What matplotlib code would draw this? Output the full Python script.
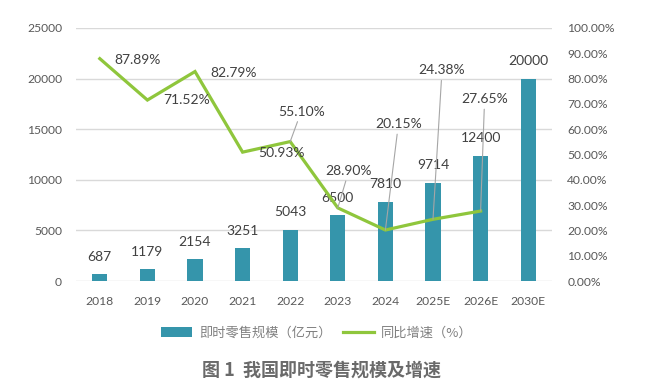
import matplotlib
matplotlib.use("Agg")
import matplotlib.pyplot as plt
from matplotlib.ticker import FuncFormatter, MultipleLocator
from matplotlib.patches import Patch
from matplotlib.lines import Line2D

plt.rcParams['font.family'] = ['Lato', 'Noto Sans CJK SC', 'DejaVu Sans']

years = ['2018', '2019', '2020', '2021', '2022', '2023', '2024', '2025E', '2026E', '2030E']
scale = [687, 1179, 2154, 3251, 5043, 6500, 7810, 9714, 12400, 20000]
growth = [87.89, 71.52, 82.79, 50.93, 55.10, 28.90, 20.15, 24.38, 27.65]
# label offsets in pixels (dx, dy) relative to each growth point, and whether a leader line is drawn
growth_offsets = [(38, -1), (39, 0), (39, -1.5), (39, -1), (11, 30), (11, 37), (13, 106), (9, 149), (4, 112)]
growth_leader = [False, False, False, False, True, True, True, True, True]

bar_color = '#3595ab'
line_color = '#8fc63c'
grid_color = '#d9d9d9'
tick_color = '#595959'
label_color = '#404040'

fig = plt.figure(figsize=(6.55, 3.9), dpi=100)
ax = fig.add_axes([76/655, 1-281/390, (552-76)/655, (281-28)/390])
ax2 = ax.twinx()

x = list(range(len(years)))
ax.bar(x, scale, width=0.32, color=bar_color, zorder=2)
ax.set_xlim(-0.5, len(years)-0.5)
ax.set_ylim(0, 25000)
ax.yaxis.set_major_locator(MultipleLocator(5000))
ax.grid(axis='y', color=grid_color, linewidth=1.0, zorder=0)
ax.set_axisbelow(True)
ax.set_xticks(x)
ax.set_xticklabels(years)
ax.tick_params(axis='both', length=0, labelsize=8.7, colors=tick_color)
ax.tick_params(axis='y', pad=10)
ax.tick_params(axis='x', pad=11)
for s in ax.spines.values():
    s.set_visible(False)

for xi, v in zip(x, scale):
    ax.annotate(str(v), xy=(xi, v), xytext=(0, 17.5), textcoords='offset pixels',
                ha='center', va='center', fontsize=10, color=label_color)

gx = x[:len(growth)]
ax2.plot(gx, growth, color=line_color, linewidth=2.3, solid_joinstyle='miter', zorder=3)
ax2.set_ylim(0, 100)
ax2.yaxis.set_major_locator(MultipleLocator(10))
ax2.yaxis.set_major_formatter(FuncFormatter(lambda v, p: f'{v:.2f}%'))
ax2.tick_params(axis='y', length=0, labelsize=8.7, colors=tick_color, pad=11)
for s in ax2.spines.values():
    s.set_visible(False)

for xi, g, (dx, dy), lead in zip(gx, growth, growth_offsets, growth_leader):
    kw = {}
    if lead:
        kw['arrowprops'] = dict(arrowstyle='-', color='#a6a6a6', lw=0.8, shrinkA=1, shrinkB=0)
    ax2.annotate(f'{g:.2f}%', xy=(xi, g), xytext=(dx, dy), textcoords='offset pixels',
                 ha='center', va='center', fontsize=10, color=label_color, **kw)

handles = [Patch(facecolor=bar_color, edgecolor='none'),
           Line2D([0], [0], color=line_color, linewidth=2.3)]
fig.legend(handles, ['即时零售规模（亿元）', '同比增速（%）'], loc='center',
           bbox_to_anchor=(317/655, 1-333/390), ncol=2, frameon=False,
           prop={'family': ['Noto Sans CJK SC'], 'size': 9.5},
           labelcolor='#808080', handlelength=2.35, handletextpad=0.5, columnspacing=0.9)

fig.text(322/655, 1-370/390, '图 1  我国即时零售规模及增速', ha='center', va='center',
         fontsize=13, fontweight='bold', color='#6a6a6a', family=['Noto Sans CJK SC'])

fig.savefig('out.png', dpi=100)
